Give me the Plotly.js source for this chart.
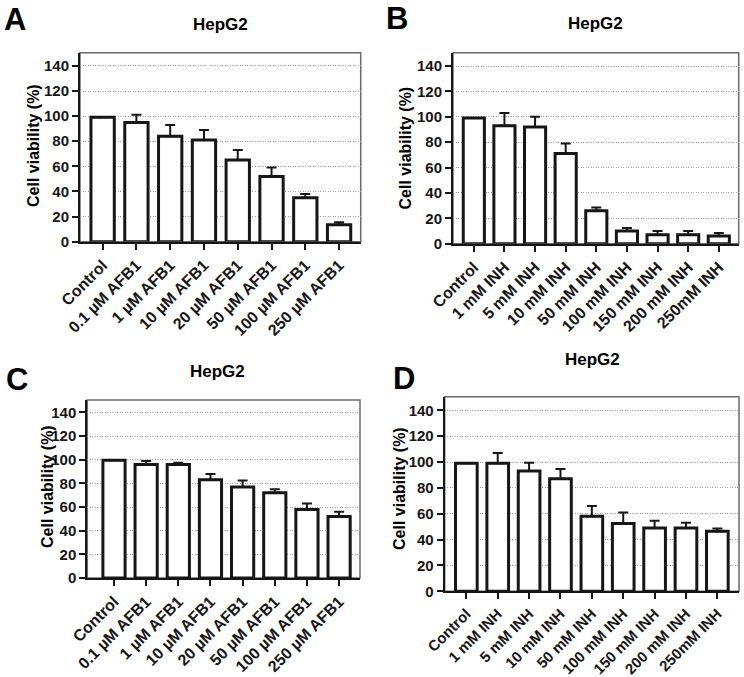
<!DOCTYPE html>
<html>
<head>
<meta charset="utf-8">
<script src="https://cdn.plot.ly/plotly-3.0.1.min.js"></script>
<style>
  html, body { margin: 0; padding: 0; background: #fff; }
  #chart { width: 744px; height: 677px; }
</style>
</head>
<body>
<div id="chart"></div>
<script>
"use strict";

// categories
const catsAFB1 = ['Control', '0.1 µM AFB1', '1 µM AFB1', '10 µM AFB1', '20 µM AFB1', '50 µM AFB1', '100 µM AFB1', '250 µM AFB1'];
const catsINH = ['Control', '1 mM INH', '5 mM INH', '10 mM INH', '50 mM INH', '100 mM INH', '150 mM INH', '200 mM INH', '250mM INH'];

// panel A: AFB1, HepG2
const meanA = [99, 95, 84, 81, 65, 52, 35, 13.5];
const errA = [0, 6, 9, 8, 8, 7, 3, 2];
// panel B: INH, HepG2
const meanB = [99, 93, 92, 71, 26, 10, 7, 7, 6];
const errB = [0, 10, 8, 8, 2.5, 2.4, 3, 3, 2.5];
// panel C: AFB1, HepG2
const meanC = [99.5, 96, 96, 83, 77, 72, 58, 52];
const errC = [0, 3, 1.5, 5, 5.5, 3, 5, 4];
// panel D: INH, HepG2
const meanD = [99, 99, 93, 87, 58, 52.5, 49, 49, 46.5];
const errD = [0, 8, 6.5, 7.5, 8, 8.5, 5.5, 4, 2];

const yTicks = [0, 20, 40, 60, 80, 100, 120, 140];

const FONT = 'Liberation Sans, Arial, sans-serif';
const INK = '#161616';

const W = 744, H = 677;
const px = v => v / W;
const py = v => 1 - v / H;

function barTrace(suffix, cats, means, errs) {
    return {
        type: 'bar',
        x: cats,
        y: means,
        xaxis: 'x' + suffix,
        yaxis: 'y' + suffix,
        width: 0.69,
        marker: { color: '#ffffff', line: { color: INK, width: 3 } },
        error_y: {
            type: 'data',
            symmetric: false,
            array: errs,
            arrayminus: errs.map(() => 0),
            color: INK,
            thickness: 2,
            width: 5
        },
        hoverinfo: 'x+y',
        showlegend: false
    };
}

function xAxis(suffix, dom, rng, fs) {
    return {
        domain: dom,
        anchor: 'y' + suffix,
        range: rng,
        showgrid: false,
        showline: true,
        linecolor: INK,
        linewidth: 2,
        ticks: 'outside',
        ticklen: 6,
        tickwidth: 2,
        tickcolor: INK,
        tickangle: -45,
        tickfont: { family: FONT, size: fs, color: INK, weight: 'bold' },
        fixedrange: true
    };
}

function yAxis(suffix, dom) {
    return {
        domain: dom,
        anchor: 'x' + suffix,
        range: [0, 150.5],
        tickvals: yTicks,
        showgrid: true,
        gridcolor: '#a0a0a0',
        griddash: '1px,1.5px',
        gridwidth: 1,
        zeroline: false,
        showline: true,
        linecolor: INK,
        linewidth: 2,
        ticks: 'outside',
        ticklen: 6,
        tickwidth: 2,
        tickcolor: INK,
        tickfont: { family: FONT, size: 15, color: INK, weight: 'bold' },
        fixedrange: true
    };
}

function frame(suffix) {
    return {
        type: 'rect', layer: 'below',
        xref: 'x' + suffix + ' domain', yref: 'y' + suffix + ' domain',
        x0: 0, x1: 1, y0: 0, y1: 1,
        line: { color: '#6a6a6a', width: 1.5 }
    };
}

function label(text, x, y, size, extra) {
    return Object.assign({
        text: text, x: px(x), y: py(y), xref: 'paper', yref: 'paper',
        showarrow: false, xanchor: 'center', yanchor: 'middle',
        font: { family: FONT, size: size, color: '#000', weight: 'bold' }
    }, extra || {});
}

const data = [
    barTrace('', catsAFB1, meanA, errA),
    barTrace('2', catsINH, meanB, errB),
    barTrace('3', catsAFB1, meanC, errC),
    barTrace('4', catsINH, meanD, errD)
];

const layout = {
    width: W,
    height: H,
    margin: { l: 0, r: 0, t: 0, b: 0 },
    paper_bgcolor: '#ffffff',
    plot_bgcolor: '#ffffff',
    xaxis: xAxis('', [px(80), px(360.7)], [-0.67, 7.64], 16),
    yaxis: yAxis('', [py(241.7), py(52.7)]),
    xaxis2: xAxis('2', [px(453), px(738.7)], [-0.68, 8.65], 16),
    yaxis2: yAxis('2', [py(243.7), py(52.7)]),
    xaxis3: xAxis('3', [px(87.3), px(360)], [-0.83, 7.65], 16),
    yaxis3: yAxis('3', [py(578), py(400)]),
    xaxis4: xAxis('4', [px(444.7), px(739)], [-0.69, 8.69], 15),
    yaxis4: yAxis('4', [py(591.3), py(396.7)]),
    shapes: [frame(''), frame('2'), frame('3'), frame('4')],
    annotations: [
        // panel letters
        label('A', 15, 20, 31),
        label('B', 397, 19, 31),
        label('C', 17, 380, 31),
        label('D', 404, 378, 31),
        // titles
        label('HepG2', 220, 24, 17),
        label('HepG2', 595, 23.5, 17),
        label('HepG2', 217, 371, 17),
        label('HepG2', 592, 359, 17),
        // y axis titles
        label('Cell viability (%)', 33, 146, 16, { textangle: -90 }),
        label('Cell viability (%)', 405, 147.5, 16, { textangle: -90 }),
        label('Cell viability (%)', 47, 487, 16, { textangle: -90 }),
        label('Cell viability (%)', 399, 489, 16, { textangle: -90 })
    ]
};

Plotly.newPlot('chart', data, layout, { displayModeBar: false, staticPlot: true });
</script>
</body>
</html>
